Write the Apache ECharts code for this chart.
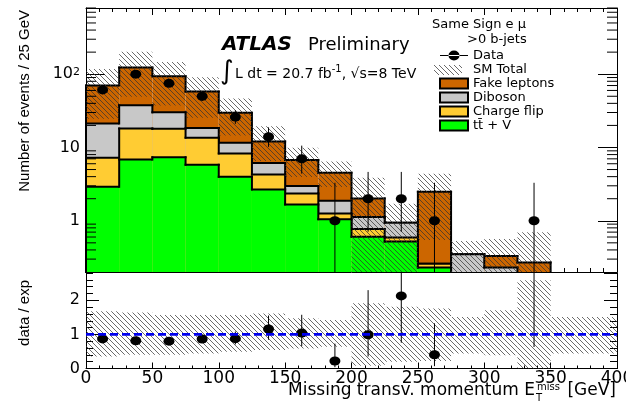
<!DOCTYPE html>
<html><head><meta charset="utf-8">
<script src="https://cdn.jsdelivr.net/npm/echarts@6/dist/echarts.min.js"></script>
<style>html,body{margin:0;padding:0;background:#fff}#chart{width:626px;height:402px}</style>
</head><body><div id="chart"></div>
<script>
// ---- data ----
const binEdges = [0,25,50,75,100,125,150,175,200,225,250,275,300,325,350,375,400];
const xTickLabels = [0,50,100,150,200,250,300,350,400];
const ttV         = [2.91, 6.84, 7.35, 5.81, 3.98, 2.68, 1.67, 1.05, 0.605, 0.52, 0.23, 0, 0, 0, 0, 0];
const chargeFlip  = [4.32, 11.3, 10.6, 7.8, 4.32, 1.59, 0.69, 0.21, 0.165, 0.07, 0.03, 0, 0, 0, 0, 0];
const diboson     = [14.0, 19.6, 12.2, 4.8, 3.3, 1.86, 0.61, 0.61, 0.36, 0.35, 0, 0.35, 0.23, 0, 0, 0];
const fakeLeptons = [49.1, 85.3, 63.5, 39.5, 18.1, 5.97, 3.76, 2.65, 0.89, 0, 2.23, 0, 0.10, 0.27, 0, 0];
const dataCounts  = [61, 100, 75, 50, 26, 14, 7, 1, 2, 2, 1, 0, 0, 1, 0, 0];
const dataErrLow  = [53.4, 90.5, 66.6, 43.1, 21.0, 10.2, 4.4, 0.17, 0.71, 0.71, 0.17, 0, 0, 0.17, 0, 0];
const dataErrHigh = [69.3, 110.5, 84.2, 57.6, 32.2, 18.8, 10.6, 3.3, 4.64, 4.64, 3.3, 0, 0, 3.3, 0, 0];
const bandLow     = [0.35, 0.40, 0.40, 0.44, 0.49, 0.54, 0.59, 0.64, 0.08, 0.20, 0.22, 0.44, 0.39, 0.0, 0.44, 0.44];
const bandHigh    = [1.68, 1.64, 1.57, 1.57, 1.57, 1.61, 1.47, 1.42, 1.91, 1.81, 1.76, 1.51, 1.71, 2.59, 1.51, 1.51];
const logMinorTicks = [0.3,0.4,0.5,0.6,0.7,0.8,0.9,2,3,4,5,6,7,8,9,20,30,40,50,60,70,80,90,200,300,400,500,600,700,800];

const Y_MIN = 0.2, Y_MAX = 800, R_MIN = 0, R_MAX = 2.8;
const FONT = '"DejaVu Sans"';
const nBins = binEdges.length - 1;
const centers = binEdges.slice(0, -1).map((e, i) => (e + binEdges[i + 1]) / 2);
const cum1 = ttV.slice();
const cum2 = cum1.map((v, i) => v + chargeFlip[i]);
const cum3 = cum2.map((v, i) => v + diboson[i]);
const total = cum3.map((v, i) => v + fakeLeptons[i]);

function makeHatch() {
  const s = 5, c = document.createElement('canvas');
  c.width = s; c.height = s;
  const g = c.getContext('2d');
  g.strokeStyle = 'rgba(50,50,50,0.72)'; g.lineWidth = 1;
  for (let k = -1; k <= 1; k++) { g.beginPath(); g.moveTo(k * s, 0); g.lineTo(k * s + s, s); g.stroke(); }
  return { image: c, repeat: 'repeat' };
}
const hatch = makeHatch();

function layerData(cum) { return cum.map((v, i) => [binEdges[i], binEdges[i + 1], v, i > 0 ? cum[i - 1] : 0]); }
function layerRender(color) {
  return function (params, api) {
    const x0 = api.value(0), x1 = api.value(1);
    const v = Math.max(api.value(2), Y_MIN), pv = Math.max(api.value(3), Y_MIN);
    const a = api.coord([x0, v]), b = api.coord([x1, v]), base = api.coord([x0, Y_MIN]), pp = api.coord([x0, pv]);
    const ch = [];
    if (v > Y_MIN) {
      ch.push({ type: 'rect', shape: { x: a[0], y: a[1], width: b[0] - a[0], height: base[1] - a[1] }, style: { fill: color } });
      ch.push({ type: 'line', shape: { x1: a[0], y1: a[1], x2: b[0], y2: b[1] }, style: { stroke: '#000', lineWidth: 2, lineCap: 'square' } });
    }
    if (Math.abs(pp[1] - a[1]) > 0.1) ch.push({ type: 'line', shape: { x1: a[0], y1: pp[1], x2: a[0], y2: a[1] }, style: { stroke: '#000', lineWidth: 2, lineCap: 'square' } });
    return { type: 'group', children: ch };
  };
}
function bandRender(ymin) {
  return function (params, api) {
    const lo = Math.max(api.value(2), ymin), hi = api.value(3);
    const a = api.coord([api.value(0), hi]), b = api.coord([api.value(1), lo]);
    return { type: 'rect', shape: { x: a[0], y: a[1], width: b[0] - a[0], height: b[1] - a[1] }, style: { fill: hatch } };
  };
}
function errRender(ymin, ymax) {
  return function (params, api) {
    const x = api.value(0);
    const lo = Math.max(api.value(1), ymin), hi = Math.min(api.value(2), ymax);
    const a = api.coord([x, lo]), b = api.coord([x, hi]);
    return { type: 'line', shape: { x1: a[0], y1: a[1], x2: b[0], y2: b[1] }, style: { stroke: '#000', lineWidth: 1 } };
  };
}

const upperIdx = [...Array(nBins).keys()];
const dataIdx = upperIdx.filter(i => dataCounts[i] > 0);
const ratioIdx = dataIdx.filter(i => total[i] > 0);
const dotSymbol = 'path://M0,5a5,5 0 1,0 10,0a5,5 0 1,0 -10,0z';

const black = { color: '#000', width: 1 };
function xAxisDef(grid, pos, showLabel, tickLen, minorLen) {
  return { type: 'value', gridIndex: grid, position: pos, min: 0, max: 400, interval: 50,
    axisLine: { onZero: false, lineStyle: black }, splitLine: { show: false },
    axisTick: { inside: true, length: tickLen, lineStyle: black },
    minorTick: { show: true, splitNumber: 5, length: minorLen, lineStyle: black },
    axisLabel: { show: showLabel, color: '#000', fontFamily: FONT, fontSize: 17, margin: 2,
      formatter: v => (xTickLabels.indexOf(v) >= 0 ? String(v) : '') } };
}
function logAxisDef(pos, showLabel) {
  return { type: 'log', logBase: 10, gridIndex: 0, position: pos, min: Y_MIN, max: Y_MAX,
    axisLine: { onZero: false, lineStyle: black }, splitLine: { show: false },
    axisTick: { inside: true, length: 19, lineStyle: black }, minorTick: { show: false },
    axisLabel: { show: showLabel, color: '#000', fontFamily: FONT, fontSize: 16, margin: 6,
      showMinLabel: false, showMaxLabel: false,
      formatter: v => { const e = Math.log10(v); if (Math.abs(e - Math.round(e)) > 1e-6) return '';
        const r = Math.round(e); return r === 0 ? '{a|1}' : r === 1 ? '{a|10}' : '{a|10}{b|' + r + '}'; },
      rich: { a: { fontFamily: FONT, fontSize: 16, color: '#000' }, b: { fontFamily: FONT, fontSize: 11, color: '#000', verticalAlign: 'top' } } } };
}
function ratioAxisDef(pos, interval, len, showLabel) {
  return { type: 'value', gridIndex: 1, position: pos, min: R_MIN, max: R_MAX, interval: interval,
    axisLine: { onZero: false, lineStyle: black }, splitLine: { show: false },
    axisTick: { inside: true, length: len, lineStyle: black },
    axisLabel: { show: showLabel, color: '#000', fontFamily: FONT, fontSize: 16, margin: 6, showMaxLabel: false,
      formatter: v => (Math.abs(v - Math.round(v)) < 1e-6 ? String(Math.round(v)) : '') } };
}

const option = {
  animation: false,
  backgroundColor: '#fff',
  grid: [
    { left: 86, right: 9, top: 8, height: 264, containLabel: false, outerBoundsMode: 'none' },
    { left: 86, right: 9, top: 273, height: 95.5, containLabel: false, outerBoundsMode: 'none' }
  ],
  xAxis: [
    xAxisDef(0, 'bottom', false, 7, 4),
    xAxisDef(0, 'top', false, 7, 4),
    xAxisDef(1, 'bottom', true, 6, 3)
  ],
  yAxis: [
    logAxisDef('left', true),
    logAxisDef('right', false),
    ratioAxisDef('left', 1, 13, true),
    ratioAxisDef('left', 0.2, 7, false),
    ratioAxisDef('right', 1, 13, false),
    ratioAxisDef('right', 0.2, 7, false)
  ],
  legend: {
    left: 434, top: 44, orient: 'vertical', itemWidth: 28, itemHeight: 10, itemGap: 1, selectedMode: false,
    textStyle: { fontFamily: FONT, fontSize: 13, color: '#000' },
    data: [
      { name: 'Data', icon: 'path://M0,4.4h28v1.2h-28z M8.5,5a5.5,5 0 1,0 11,0a5.5,5 0 1,0 -11,0z', itemStyle: { color: '#000', borderWidth: 0, opacity: 1 } },
      { name: 'SM Total', icon: 'rect', itemStyle: { color: 'rgba(0,0,0,0)', borderWidth: 0 } },
      { name: 'Fake leptons', icon: 'rect', itemStyle: { color: '#cc6600', borderColor: '#000', borderWidth: 2 } },
      { name: 'Diboson', icon: 'rect', itemStyle: { color: '#c8c8c8', borderColor: '#000', borderWidth: 2 } },
      { name: 'Charge flip', icon: 'rect', itemStyle: { color: '#ffcc33', borderColor: '#000', borderWidth: 2 } },
      { name: 't\u0074\u0304 + V', icon: 'rect', itemStyle: { color: '#00ff00', borderColor: '#000', borderWidth: 2 } }
    ]
  },
  series: [
    { name: 'Fake leptons', type: 'custom', xAxisIndex: 0, yAxisIndex: 0, data: layerData(total), renderItem: layerRender('#cc6600'), itemStyle: { color: '#cc6600' }, silent: true },
    { name: 'Diboson', type: 'custom', xAxisIndex: 0, yAxisIndex: 0, data: layerData(cum3), renderItem: layerRender('#c8c8c8'), itemStyle: { color: '#c8c8c8' }, silent: true },
    { name: 'Charge flip', type: 'custom', xAxisIndex: 0, yAxisIndex: 0, data: layerData(cum2), renderItem: layerRender('#ffcc33'), itemStyle: { color: '#ffcc33' }, silent: true },
    { name: 't\u0074\u0304 + V', type: 'custom', xAxisIndex: 0, yAxisIndex: 0, data: layerData(cum1), renderItem: layerRender('#00ff00'), itemStyle: { color: '#00ff00' }, silent: true },
    { name: 'SM Total', type: 'custom', xAxisIndex: 0, yAxisIndex: 0, silent: true, itemStyle: { color: 'rgba(0,0,0,0)' },
      data: upperIdx.filter(i => total[i] > 0).map(i => [binEdges[i], binEdges[i + 1], total[i] * bandLow[i], total[i] * bandHigh[i]]),
      renderItem: bandRender(Y_MIN) },
    { name: 'logMinorTicks', type: 'custom', xAxisIndex: 0, yAxisIndex: 0, silent: true,
      data: logMinorTicks.map(v => [0, v]),
      renderItem: (params, api) => {
        const y = api.coord([0, api.value(1)])[1]; const cs = params.coordSys;
        return { type: 'group', children: [
          { type: 'line', shape: { x1: cs.x, y1: y, x2: cs.x + 10, y2: y }, style: { stroke: '#000', lineWidth: 1 } },
          { type: 'line', shape: { x1: cs.x + cs.width - 10, y1: y, x2: cs.x + cs.width, y2: y }, style: { stroke: '#000', lineWidth: 1 } }
        ] };
      } },
    { name: 'DataErr', type: 'custom', xAxisIndex: 0, yAxisIndex: 0, silent: true,
      data: dataIdx.map(i => [centers[i], dataErrLow[i], dataErrHigh[i]]), renderItem: errRender(Y_MIN, Y_MAX) },
    { name: 'Data', type: 'scatter', xAxisIndex: 0, yAxisIndex: 0, silent: true, symbol: dotSymbol, symbolSize: [11, 9],
      itemStyle: { color: '#000', opacity: 1 }, data: dataIdx.map(i => [centers[i], dataCounts[i]]) },
    // ratio panel
    { name: 'RatioBand', type: 'custom', xAxisIndex: 2, yAxisIndex: 2, silent: true,
      data: upperIdx.map(i => [binEdges[i], binEdges[i + 1], bandLow[i], bandHigh[i]]), renderItem: bandRender(R_MIN) },
    { name: 'Unity', type: 'line', xAxisIndex: 2, yAxisIndex: 2, silent: true, symbol: 'none',
      lineStyle: { color: '#0000ee', width: 2.6, type: [8, 4] }, data: [[0, 1], [400, 1]] },
    { name: 'RatioErr', type: 'custom', xAxisIndex: 2, yAxisIndex: 2, silent: true,
      data: ratioIdx.map(i => [centers[i], dataErrLow[i] / total[i], dataErrHigh[i] / total[i]]), renderItem: errRender(R_MIN, R_MAX) },
    { name: 'Ratio', type: 'scatter', xAxisIndex: 2, yAxisIndex: 2, silent: true, clip: true, symbol: dotSymbol, symbolSize: [11, 9],
      itemStyle: { color: '#000', opacity: 1 }, data: ratioIdx.map(i => [centers[i], dataCounts[i] / total[i]]) }
  ],
  graphic: [
    { type: 'rect', x: 434, y: 65, shape: { x: 0, y: 0, width: 28, height: 10 }, style: { fill: hatch }, silent: true },
    { type: 'text', x: 25, y: 10, rotation: Math.PI / 2, style: { text: 'Number of events / 25 GeV', font: '15px "Liberation Sans"', fill: '#000', align: 'right', verticalAlign: 'middle' } },
    { type: 'text', x: 25, y: 280, rotation: Math.PI / 2, style: { text: 'data / exp', font: '15px "Liberation Sans"', fill: '#000', align: 'right', verticalAlign: 'middle' } },
    { type: 'text', x: 222, y: 45, style: { text: 'ATLAS', font: 'italic bold 20px "DejaVu Sans"', fill: '#000', verticalAlign: 'middle' } },
    { type: 'text', x: 308, y: 45, style: { text: 'Preliminary', font: '18px "DejaVu Sans"', fill: '#000', verticalAlign: 'middle' } },
    { type: 'text', x: 220, y: 72, style: { text: '\u222B', font: '26px "DejaVu Sans"', fill: '#000', verticalAlign: 'middle' } },
    { type: 'text', x: 235, y: 73, style: { text: '{n|L dt = 20.7 fb}{s|-1}{n|, \u221As=8 TeV}', verticalAlign: 'middle',
        rich: { n: { fontFamily: FONT, fontSize: 14, lineHeight: 17, verticalAlign: 'bottom', fill: '#000' },
                s: { fontFamily: FONT, fontSize: 10, lineHeight: 10, verticalAlign: 'top', fill: '#000' } } } },
    { type: 'text', x: 432, y: 25, style: { text: 'Same Sign e \u03BC', font: '13px "DejaVu Sans"', fill: '#000', verticalAlign: 'middle' } },
    { type: 'text', x: 467, y: 40, style: { text: '>0 b-jets', font: '13px "DejaVu Sans"', fill: '#000', verticalAlign: 'middle' } },
    { type: 'text', x: 535, y: 391, style: { text: 'Missing transv. momentum E', font: '17px "DejaVu Sans"', fill: '#000', align: 'right', verticalAlign: 'middle' } },
    { type: 'text', x: 537, y: 387, style: { text: 'miss', font: '10px "DejaVu Sans"', fill: '#000', verticalAlign: 'middle' } },
    { type: 'text', x: 536, y: 398, style: { text: 'T', font: '10px "DejaVu Sans"', fill: '#000', verticalAlign: 'middle' } },
    { type: 'text', x: 616, y: 391, style: { text: '[GeV]', font: '17px "DejaVu Sans"', fill: '#000', align: 'right', verticalAlign: 'middle' } }
  ]
};
const chart = echarts.init(document.getElementById('chart'), null, { renderer: 'canvas' });
chart.setOption(option);
</script></body></html>
